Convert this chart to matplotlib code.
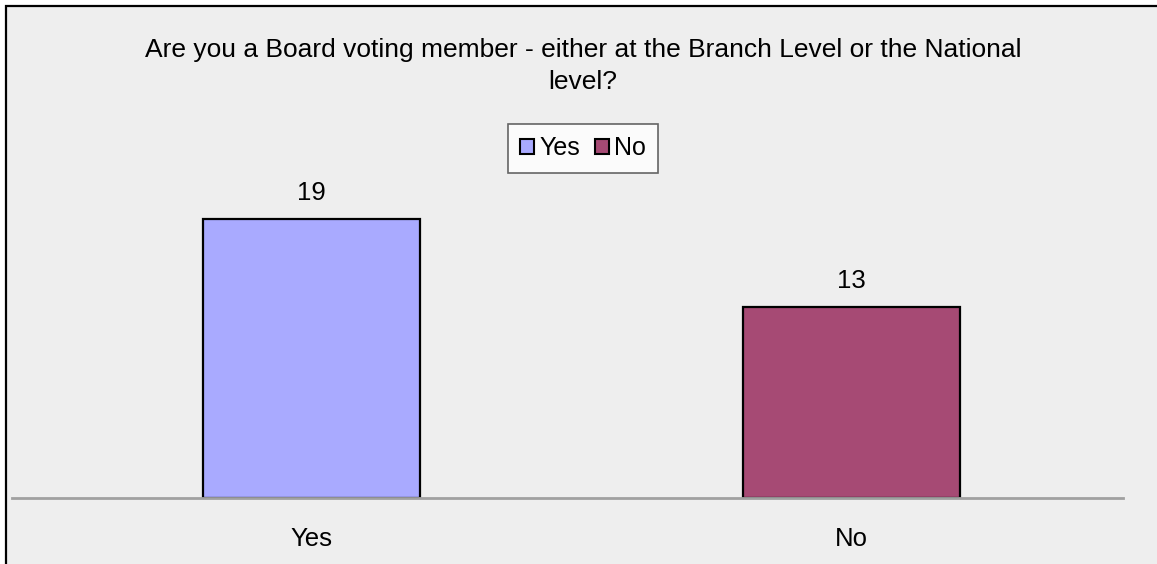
import matplotlib
matplotlib.use('Agg')
import matplotlib.pyplot as plt
from matplotlib.patches import Rectangle, Patch

categories = ["Yes", "No"]
counts = [19, 13]
colors = ["#a9aaff", "#a64a74"]
title = "Are you a Board voting member - either at the Branch Level or the National\nlevel?"

plt.rcParams['font.family'] = ['Liberation Sans', 'DejaVu Sans']

W, H = 1157, 564
fig = plt.figure(figsize=(W / 100, H / 100), dpi=100)
fig.patch.set_facecolor("white")

# grey panel with black frame on left/top (cropped at right/bottom)
fig.patches.append(Rectangle((6 / W, -0.05), 1.1, 1 - 6 / H + 0.05,
                             transform=fig.transFigure, facecolor="#eeeeee",
                             edgecolor="black", linewidth=1.6, zorder=-5))

ax = fig.add_axes([12 / W, (H - 498) / H, (1123 - 12) / W, 367 / H])
ax.set_facecolor("none")
x = list(range(len(categories)))
bars = ax.bar(x, counts, width=0.402, color=colors, edgecolor="black", linewidth=1.6)
for xi, v in zip(x, counts):
    ax.text(xi, v + 1.75, str(v), ha="center", va="center", fontsize=18.5)

ax.set_xlim(-0.5546, 1.5028)
ax.set_ylim(0, 25)
ax.set_yticks([])
ax.set_xticks(x)
ax.set_xticklabels(categories, fontsize=18.5)
ax.tick_params(axis="x", length=0, pad=21)
for s in ["top", "right", "left"]:
    ax.spines[s].set_visible(False)
ax.spines["bottom"].set_color("#a0a0a0")
ax.spines["bottom"].set_linewidth(2)

fig.text(583 / W, 1 - 66 / H, title, ha="center", va="center", fontsize=19,
         linespacing=1.4)

handles = [Patch(facecolor=c, edgecolor="black", linewidth=1.5) for c in colors]
leg = fig.legend(handles, categories, loc="center", bbox_to_anchor=(583 / W, 1 - 148 / H),
                 ncol=2, fontsize=18, frameon=True, fancybox=False,
                 handlelength=0.55, handleheight=0.55, handletextpad=0.2,
                 columnspacing=0.6, borderpad=0.5)
leg.get_frame().set_edgecolor("#404040")
leg.get_frame().set_linewidth(1.2)

fig.savefig("out.png", dpi=100)
